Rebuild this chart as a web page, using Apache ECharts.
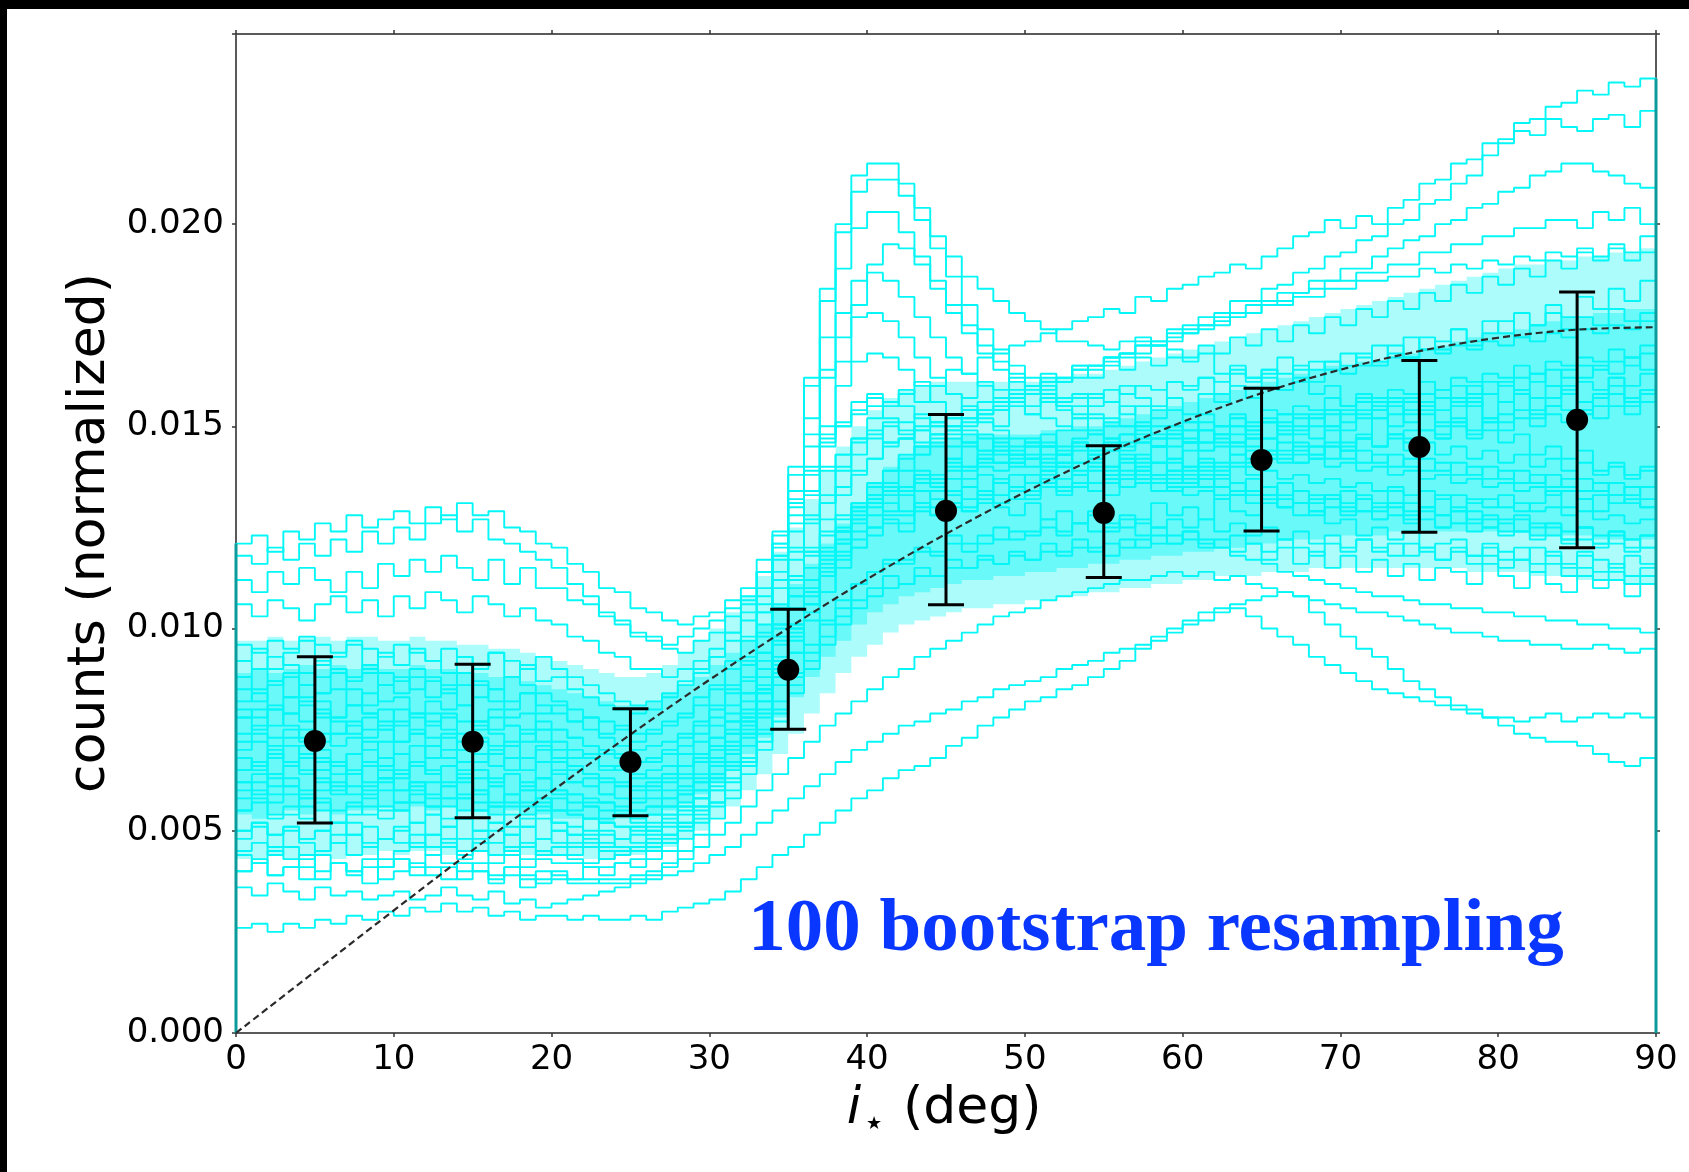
<!DOCTYPE html>
<html><head><meta charset="utf-8">
<script src="https://cdn.jsdelivr.net/npm/echarts@6/dist/echarts.min.js"></script>
<style>html,body{margin:0;padding:0;background:#fff}#c{width:1689px;height:1172px}</style>
</head><body><div id="c"></div>
<script>
// values are in units of 1e-4 (counts, normalized), bins of 1 degree starting at 0
const xTicks = [0,10,20,30,40,50,60,70,80,90];
const yTicks = [0,50,100,150,200];
const binWidth = 1;

const curveU1 = [121,123,119,124,122,126,124,128,125,127,129,126,130,127,131,128,129,125,124,121,120,116,114,110,109,105,104,102,101,103,104,107,110,117,124,134,140,147,150,153,155,152,151,149,148,150,146,148,144,145,146,142,145,141,143,140,142,139,141,137,138,135,137,133,134,131,132,128,129,126,127,123,125,122,124,120,121,122,118,120,117,120,116,119,115,118,114,116,113,115];
const curveU2 = [118,116,120,117,121,118,122,119,124,121,125,122,126,128,124,127,122,121,119,117,115,111,108,104,102,99,98,96,98,100,102,105,108,114,120,128,134,140,143,147,149,146,147,143,146,142,145,141,144,140,143,139,141,138,141,136,139,137,138,134,135,138,133,136,133,135,130,134,131,132,129,133,127,131,128,129,125,130,126,127,124,128,123,126,122,125,121,124,120,123];
const curveU3 = [112,109,114,111,115,112,109,114,110,116,113,117,114,118,115,112,117,111,115,110,110,107,106,103,101,98,97,95,94,97,99,103,107,114,121,131,138,146,151,156,158,156,155,152,150,147,146,144,143,141,145,140,143,139,143,138,141,137,141,136,140,137,138,134,137,133,136,131,133,132,134,129,131,130,127,130,128,126,129,125,127,124,126,125,122,125,121,123,122,120];
const curveU4 = [106,103,107,105,102,106,108,104,107,103,108,105,109,107,104,108,106,103,105,102,101,98,97,94,93,90,90,88,90,92,95,99,104,110,118,126,133,139,143,146,148,151,149,146,148,145,148,144,147,143,146,148,143,147,149,144,148,150,145,149,151,146,150,152,147,151,153,148,152,154,149,153,155,150,154,156,151,155,157,152,156,158,153,157,159,154,158,160,155,159];
const curveP1 = [88,85,87,83,86,84,85,81,84,82,83,79,82,80,81,77,80,78,79,75,75,73,71,70,69,67,67,69,71,74,78,84,93,104,121,140,162,184,200,212,215,215,210,204,197,192,187,184,181,178,176,174,171,171,170,169,171,172,170,167,166,168,163,165,162,164,159,161,158,160,155,157,154,156,151,153,150,152,147,149,146,148,143,145,142,144,139,141,138,140];
const curveP2 = [78,80,76,79,77,78,74,77,75,76,72,75,73,74,70,73,71,72,68,71,68,66,64,63,62,61,62,64,66,69,73,79,88,101,117,138,160,181,198,208,211,211,207,201,194,187,180,174,169,165,162,160,157,157,155,156,153,155,152,154,151,153,150,152,149,151,148,150,147,149,146,148,145,147,144,146,143,145,142,144,141,143,140,142,139,141,138,140,137,139];
const curveP3 = [70,72,68,71,69,70,66,69,67,68,64,67,65,66,62,65,63,64,60,63,60,59,57,57,55,55,56,58,61,64,68,74,82,94,110,130,152,172,189,199,203,203,198,192,186,180,175,170,166,163,160,158,155,155,153,152,150,151,148,150,147,149,146,148,145,147,144,146,143,145,142,144,141,143,140,142,139,141,138,140,137,139,136,138,135,137,134,136,133,135];
const curveP4 = [82,84,80,83,81,82,78,81,79,80,76,79,77,78,74,77,75,76,72,75,72,70,68,66,65,64,63,64,66,68,71,75,80,88,98,112,128,148,166,180,190,195,194,190,184,178,173,168,164,161,158,156,154,153,152,150,150,148,150,147,149,146,148,145,147,144,146,143,145,142,144,141,143,140,142,139,141,138,140,137,139,136,138,135,137,134,136,133,135,132];
const curveP5 = [65,67,63,66,64,65,61,64,62,63,60,62,58,61,59,60,56,59,57,58,55,54,53,52,51,50,51,53,56,60,64,70,78,90,105,124,145,164,178,186,188,186,182,177,172,167,163,160,157,155,153,152,150,149,148,147,148,146,147,145,146,144,145,143,144,142,143,141,142,140,141,139,140,138,139,137,138,136,137,135,136,134,135,133,134,132,133,131,132,130];
const curveP6 = [92,90,93,91,89,92,90,88,91,89,87,90,88,86,89,87,85,88,86,84,82,80,78,77,75,74,75,76,78,81,85,90,97,106,118,132,148,162,172,177,178,176,172,167,162,158,154,151,149,147,145,146,144,145,143,144,142,143,141,142,140,141,139,140,138,139,137,138,136,137,135,136,134,135,133,134,132,133,131,132,130,131,129,130,128,129,127,128,126,127];
const curveP7 = [58,60,57,59,56,58,55,57,54,56,55,57,54,56,53,55,52,54,51,53,50,49,48,47,46,45,46,48,51,55,60,66,74,86,100,117,134,150,160,166,168,167,164,160,156,152,149,147,145,143,142,141,140,141,139,140,138,139,137,138,136,137,135,136,134,135,133,134,132,133,131,132,130,131,129,130,128,129,127,128,126,127,125,126,124,125,123,124,122,123];
const curveH1 = [55,57,54,56,53,55,52,54,56,53,55,52,54,51,53,50,52,49,51,48,50,47,49,46,48,47,49,51,54,58,63,69,76,85,96,108,120,131,140,147,152,156,158,161,160,164,163,167,168,170,171,173,174,176,177,179,178,182,181,184,185,187,188,190,189,192,194,197,198,201,199,202,200,204,206,210,211,215,216,220,221,225,226,229,230,233,232,235,234,236];
const curveH2 = [62,64,61,63,60,62,59,61,58,60,57,59,56,58,55,57,54,56,53,55,52,51,50,49,48,49,50,52,55,58,62,67,73,80,88,97,106,114,121,127,132,136,139,143,145,148,150,153,154,157,158,161,161,164,165,167,168,171,171,174,175,177,178,181,181,184,185,188,189,192,193,196,197,200,201,205,206,210,212,217,220,223,222,226,224,223,226,227,224,228];
const curveH3 = [68,66,69,67,65,68,66,64,67,65,63,66,64,62,65,63,61,64,62,60,59,57,56,55,54,53,54,56,59,62,66,71,77,84,92,101,110,118,125,131,136,139,143,145,148,149,152,153,156,156,159,159,162,162,165,165,168,168,171,171,174,174,177,177,180,180,183,183,186,186,189,189,192,194,196,197,200,201,204,205,208,209,212,213,215,215,213,212,210,209];
const curveH4 = [74,76,73,75,72,74,71,73,70,72,69,71,68,70,67,69,66,68,65,67,64,62,61,59,58,57,58,60,63,67,71,77,84,92,101,110,119,127,133,138,142,146,147,150,151,153,154,156,157,159,160,162,162,165,165,167,168,170,170,173,173,175,176,178,178,181,181,183,184,186,186,188,188,190,190,193,193,195,195,197,197,199,199,201,201,199,203,201,204,200];
const curveH5 = [50,52,49,51,48,50,47,49,46,48,47,49,46,48,45,47,44,46,43,45,44,43,42,43,44,45,47,49,52,56,61,67,74,82,91,100,109,117,124,130,135,139,142,145,147,150,151,154,155,158,158,161,161,164,164,167,167,170,170,172,173,175,175,178,178,180,180,182,182,184,184,186,186,187,187,189,188,190,189,191,190,192,191,193,192,194,192,194,191,193];
const curveB1 = [72,74,71,73,75,72,74,76,73,75,72,74,71,73,70,72,69,71,68,70,67,65,64,62,61,60,61,62,64,67,70,74,79,85,92,100,108,115,121,126,130,133,135,138,137,140,139,142,141,143,142,145,143,146,144,147,146,149,147,150,149,151,150,153,151,154,153,155,154,157,155,158,157,159,158,161,159,162,161,163,162,165,163,166,165,167,166,169,167,170];
const curveB2 = [80,78,81,79,82,80,78,81,79,77,80,78,76,79,77,75,78,76,74,77,75,73,71,69,68,67,68,70,73,76,80,85,91,98,105,112,118,123,127,130,132,135,134,137,136,139,137,140,139,141,140,143,141,144,142,145,144,146,145,148,146,149,148,150,149,152,150,153,152,154,153,156,154,157,156,158,157,160,158,161,160,162,161,164,162,165,164,166,165,168];
const curveB3 = [60,62,59,61,58,60,62,59,61,63,60,62,59,61,58,60,57,59,56,58,55,54,53,52,51,51,52,54,57,60,64,69,75,82,90,98,106,113,118,122,125,128,128,131,130,133,132,134,133,135,134,137,135,138,136,138,137,140,138,141,139,142,140,143,141,144,142,145,143,146,144,147,145,148,146,149,147,150,148,151,149,152,150,153,151,154,152,155,153,156];
const curveB4 = [50,52,49,51,48,50,52,49,51,48,50,52,49,51,48,50,47,49,46,48,47,46,46,45,45,46,47,49,52,56,60,65,71,78,86,94,102,109,115,120,123,126,126,129,128,131,130,132,131,134,132,135,133,136,134,137,135,138,136,139,137,140,138,141,140,142,141,144,142,145,144,147,145,148,147,149,148,151,149,152,151,154,152,155,154,156,155,158,156,159];
const curveB5 = [88,90,87,89,86,88,90,87,89,86,88,85,87,84,86,83,85,82,84,81,79,77,75,73,71,70,71,72,74,77,81,86,92,99,106,113,119,124,128,131,133,135,134,136,135,137,135,138,136,138,136,139,137,138,136,137,135,136,134,135,133,134,132,133,131,132,130,131,129,130,128,129,127,128,126,127,125,126,124,125,123,124,122,123,121,122,120,121,119,120];
const curveB6 = [65,67,64,66,68,65,67,64,66,63,65,67,64,66,63,65,62,64,61,63,60,59,58,57,56,55,56,58,60,63,67,72,78,85,93,101,109,116,122,127,131,134,135,138,138,141,140,142,141,144,142,145,143,146,144,146,145,147,145,148,146,149,147,150,148,151,149,152,150,153,151,154,152,155,153,156,154,157,155,158,156,159,157,160,158,161,159,162,160,163];
const curveB7 = [45,47,44,46,43,45,47,44,46,43,45,47,44,46,43,45,42,44,41,43,42,42,41,41,42,43,45,47,50,53,57,62,68,75,82,89,96,102,107,111,114,116,117,119,119,121,121,123,122,124,123,125,124,126,124,126,125,127,125,127,125,127,124,126,123,125,122,124,121,123,120,122,119,121,118,120,117,119,116,118,115,117,114,116,113,115,112,114,111,113];
const curveB8 = [96,94,97,95,98,96,94,97,95,93,96,94,92,95,93,91,94,92,90,93,90,88,86,84,82,81,82,84,87,90,93,97,102,108,114,120,126,131,135,139,142,145,147,149,150,152,152,154,154,156,155,157,156,158,157,159,158,160,159,161,160,162,161,163,162,164,163,165,164,166,165,167,166,168,167,169,168,170,169,171,170,172,171,173,172,174,173,175,174,176];
const curveB9 = [40,42,39,41,38,40,42,39,41,38,40,42,39,41,38,40,37,39,36,38,38,37,37,38,38,39,40,42,45,49,53,58,64,70,77,84,90,96,101,105,108,110,111,113,113,115,115,117,116,118,117,119,118,120,119,121,120,122,121,123,122,121,120,118,117,116,114,113,112,111,110,109,108,108,107,106,106,105,105,104,104,103,103,102,102,101,101,100,100,99];
const curveC1 = [55,58,53,54,59,57,52,56,60,55,57,61,56,53,58,55,56,51,54,57,52,49,53,50,48,51,50,54,56,58,63,66,74,79,89,94,104,109,117,120,125,127,124,131,128,134,129,131,136,132,133,138,134,135,140,133,137,142,138,139,144,139,141,146,142,143,148,141,145,150,145,147,152,148,149,154,147,151,156,151,153,158,154,155,160,153,157,162,157,158];
const curveC2 = [85,82,86,88,83,84,89,85,81,86,84,88,83,85,81,86,82,80,84,79,81,77,78,74,76,72,74,77,79,83,86,92,98,104,112,119,127,133,139,143,147,150,148,153,151,149,155,152,150,156,153,157,155,152,158,156,160,157,155,161,159,162,158,164,161,163,167,162,166,164,168,165,170,167,172,169,171,174,170,173,176,172,175,178,174,177,175,179,176,178];
const curveC3 = [48,51,46,50,47,45,49,52,47,48,51,46,49,47,44,48,50,45,47,44,46,44,47,43,45,46,48,47,51,54,57,63,67,74,80,88,94,101,105,111,114,117,116,120,118,123,119,121,125,122,124,127,123,126,129,125,128,126,131,128,130,127,132,129,128,133,130,131,128,133,130,132,129,134,131,130,133,129,132,130,133,129,131,134,130,132,129,133,131,130];
const curveC4 = [68,65,70,66,71,67,64,69,72,66,69,66,71,68,64,67,70,65,68,63,65,62,63,59,61,58,60,63,66,68,73,77,84,90,97,105,112,119,124,129,133,136,134,139,137,142,140,143,146,142,147,145,149,152,148,151,155,150,154,157,153,158,156,160,157,162,159,164,161,166,163,168,165,170,167,172,169,174,171,176,173,178,175,180,177,182,179,184,181,186];
const curveC5 = [78,75,80,76,73,79,77,74,78,75,77,74,79,75,72,76,74,71,75,72,70,68,69,65,66,63,65,66,69,72,76,81,87,94,101,108,115,120,124,128,131,129,133,130,134,131,129,133,130,128,131,127,129,126,128,124,127,123,125,121,124,120,122,119,121,117,120,116,119,115,118,114,117,113,116,112,115,114,111,116,113,110,114,111,109,113,110,112,108,111];
const curveC6 = [92,95,90,94,97,91,93,96,90,94,91,95,92,89,93,90,94,88,91,87,88,85,83,81,80,79,80,83,86,89,93,99,106,114,123,131,139,145,150,154,157,155,159,156,160,158,157,161,159,162,160,163,161,165,162,166,164,167,165,169,167,170,168,172,170,174,171,175,173,177,175,179,177,181,179,183,181,185,183,187,185,189,187,191,189,193,191,195,193,197];
const curveC7 = [62,59,64,61,58,63,60,65,59,62,64,60,62,58,63,59,61,57,60,56,58,55,56,53,54,52,54,56,59,62,66,71,77,84,91,99,106,113,119,124,128,131,129,134,132,130,135,133,137,134,138,136,140,138,142,139,143,141,145,142,146,144,148,146,150,147,151,149,153,150,154,152,156,153,157,155,159,156,160,158,161,159,163,160,164,162,165,163,167,164];
const curveC8 = [40,43,39,41,44,38,42,40,37,41,43,39,41,38,42,40,38,41,39,37,40,38,41,39,42,41,43,45,48,52,56,60,66,72,79,86,92,98,103,107,110,113,111,115,113,117,115,118,116,119,117,121,119,122,120,118,122,120,123,121,124,122,120,123,121,119,122,120,118,121,119,122,120,118,121,119,117,120,118,121,119,117,120,118,116,119,117,115,118,116];
const curveL1 = [26,27,25,27,26,28,27,29,28,30,29,31,30,32,30,31,29,30,28,29,29,28,29,28,28,29,28,30,31,32,33,35,38,41,44,46,49,52,55,58,60,63,65,66,68,71,73,76,78,80,82,83,85,86,88,90,92,95,97,100,102,104,105,105,103,100,98,96,93,91,89,87,85,84,83,82,81,80,79,78,78,77,78,79,77,78,79,78,79,78];
const curveL2 = [36,34,37,35,33,36,34,35,33,34,35,33,34,36,34,33,35,32,33,31,32,33,34,35,36,37,38,39,40,42,44,46,49,52,55,58,61,64,67,70,72,74,76,77,79,80,82,83,85,86,87,88,90,91,92,94,95,96,98,99,101,102,104,106,107,108,109,108,104,101,98,95,93,90,87,85,83,81,80,78,76,74,73,72,72,71,69,67,66,68];
const curveL3 = [44,42,45,43,41,44,42,40,43,41,43,41,44,42,40,42,39,41,38,40,39,38,38,37,37,38,39,41,43,46,49,52,56,60,64,68,72,76,79,82,85,88,90,93,95,97,99,101,103,104,105,107,108,109,110,111,112,112,113,114,113,114,112,113,111,110,109,108,107,106,105,104,104,103,102,101,100,99,99,98,97,97,96,96,95,95,96,95,94,95];

// density of the 100 curves: outer envelope and dense core (lower / upper edges)
const bandOutLo = [43,43,44,43,44,44,43,44,44,45,44,45,45,44,45,45,44,45,44,44,44,44,43,43,44,44,45,46,48,50,53,56,60,64,69,74,79,84,89,93,96,99,101,102,103,104,105,105,106,106,107,107,108,108,109,109,110,110,111,111,112,112,113,113,113,114,114,114,115,115,115,115,115,115,115,115,115,115,114,114,114,114,113,113,113,112,112,112,111,111];
const bandOutHi = [97,97,98,97,98,98,97,98,98,97,97,98,97,97,96,96,95,95,94,93,92,91,90,89,88,88,89,91,94,97,100,104,108,113,119,125,132,139,145,150,154,157,159,160,161,161,161,161,161,161,161,162,162,163,163,164,165,166,167,168,169,170,171,172,173,174,175,176,177,178,179,180,181,182,183,184,185,186,187,188,189,190,190,191,191,192,192,193,193,194];
const bandLo = [54,53,54,55,54,55,54,55,55,56,55,56,55,56,55,55,54,55,54,54,53,53,53,52,53,53,54,55,57,59,62,65,69,73,78,83,88,93,97,101,104,106,108,109,110,111,112,112,113,113,114,114,115,115,116,116,117,117,118,118,119,119,120,120,121,121,122,122,122,123,123,123,123,124,124,124,124,124,124,124,124,124,123,123,123,123,122,122,122,122];
const bandHi = [89,90,89,90,91,90,91,90,91,90,90,91,90,90,89,89,88,88,87,86,85,84,83,82,81,81,82,84,86,88,91,94,97,101,106,111,116,121,126,131,136,140,143,145,146,147,148,148,148,148,148,149,149,150,150,151,152,153,154,155,156,157,158,159,160,161,162,163,164,165,165,166,166,167,168,169,170,171,172,173,173,174,175,176,177,177,178,178,179,179];

// binned mean with error bars
const ebX = [5,15,25,35,45,55,65,75,85];
const ebMean = [72.2,72.0,67.0,89.8,129.1,128.6,141.7,144.9,151.6];
const ebLo = [51.9,53.2,53.7,75.1,105.9,112.6,124.1,123.8,120.0];
const ebHi = [93.0,91.2,80.2,104.8,152.9,145.2,159.4,166.3,183.2];

// isotropic expectation (dashed)
const thX = [0,5,10,15,20,25,30,35,40,45,50,55,60,65,70,75,80,85,90];
const thY = [0,15.2,30.3,45.2,59.7,73.8,87.3,100.1,112.2,123.4,133.7,143.0,151.1,158.2,164.0,168.6,171.9,173.9,174.5];

const curves = [curveU1,curveU2,curveU3,curveU4,curveP1,curveP2,curveP3,curveP4,curveP5,curveP6,curveP7,
  curveH1,curveH2,curveH3,curveH4,curveH5,curveB1,curveB2,curveB3,curveB4,curveB5,curveB6,curveB7,curveB8,curveB9,
  curveC1,curveC2,curveC3,curveC4,curveC5,curveC6,curveC7,curveC8,curveL1,curveL2,curveL3];

const CYAN = '#04f6f6';
const XMAX = 90, YMAX = 247;

function stepData(vals){
  const d = [[0,0]];
  vals.forEach((v,i)=>d.push([i*binWidth, v]));
  d.push([vals.length*binWidth, vals[vals.length-1]]);
  d.push([vals.length*binWidth, 0]);
  return d;
}
function bandSeries(lo, hi, opacity){
  return {type:'custom', z:1, silent:true, data:[[0,0]],
    renderItem:function(params, api){
      const pts = [];
      for (let i=0;i<hi.length;i++){
        pts.push(api.coord([i*binWidth, hi[i]]));
        pts.push(api.coord([(i+1)*binWidth, hi[i]]));
      }
      for (let i=lo.length-1;i>=0;i--){
        pts.push(api.coord([(i+1)*binWidth, lo[i]]));
        pts.push(api.coord([i*binWidth, lo[i]]));
      }
      return {type:'polygon', shape:{points:pts}, style:{fill:CYAN, opacity:opacity}};
    }};
}

const series = [];
series.push(bandSeries(bandOutLo, bandOutHi, 0.33));
series.push(bandSeries(bandLo, bandHi, 0.4));
curves.forEach(c=>{
  series.push({type:'line', step:'end', data:stepData(c), showSymbol:false, silent:true,
    lineStyle:{color:CYAN, width:1.9}, z:3});
});
// edges of the step histograms along the frame
const leftTop = Math.max(...curves.map(c=>c[0]));
const rightTop = Math.max(...curves.map(c=>c[c.length-1]));
series.push({type:'line', data:[[0,0],[0,leftTop]], showSymbol:false, silent:true, lineStyle:{color:'#0a9c9c', width:3}, z:5});
series.push({type:'line', data:[[XMAX,0],[XMAX,rightTop]], showSymbol:false, silent:true, lineStyle:{color:'#0a9c9c', width:3}, z:5});
// dashed expectation
series.push({type:'line', smooth:0.35, data:thX.map((x,i)=>[x,thY[i]]), showSymbol:false, silent:true,
  lineStyle:{color:'#2a2a2a', width:2.2, type:[7,4]}, z:8});
// error bars
series.push({type:'custom', z:9, silent:true,
  data: ebX.map((x,i)=>[x, ebLo[i], ebHi[i]]),
  encode:{x:0, y:[1,2]},
  renderItem:function(params, api){
    const x = api.value(0);
    const p1 = api.coord([x, api.value(1)]);
    const p2 = api.coord([x, api.value(2)]);
    const hw = 18;
    const st = {stroke:'#000', lineWidth:3};
    return {type:'group', children:[
      {type:'line', shape:{x1:p1[0],y1:p1[1],x2:p2[0],y2:p2[1]}, style:st},
      {type:'line', shape:{x1:p1[0]-hw,y1:p1[1],x2:p1[0]+hw,y2:p1[1]}, style:st},
      {type:'line', shape:{x1:p2[0]-hw,y1:p2[1],x2:p2[0]+hw,y2:p2[1]}, style:st}
    ]};
  }});
series.push({type:'scatter', data:ebX.map((x,i)=>[x, ebMean[i]]), symbolSize:22, itemStyle:{color:'#000', opacity:1}, z:10, silent:true});

const axisLineStyle = {color:'#5a5a5a', width:2};
const tickStyle = {color:'#333', width:1.5};
const labelFont = {fontFamily:'DejaVu Sans', fontSize:34, color:'#000'};

const option = {
  animation:false,
  backgroundColor:'#fff',
  grid:{left:236, right:33, top:34, bottom:139, containLabel:false},
  xAxis:[
    {type:'value', min:0, max:XMAX, interval:10, position:'bottom',
     axisLine:{show:true, onZero:false, lineStyle:axisLineStyle},
     axisTick:{show:true, length:4, lineStyle:tickStyle},
     axisLabel:Object.assign({margin:10, formatter:v=>xTicks.includes(v)?String(v):''}, labelFont),
     splitLine:{show:false}},
    {type:'value', min:0, max:XMAX, interval:10, position:'top',
     axisLine:{show:true, onZero:false, lineStyle:axisLineStyle},
     axisTick:{show:true, length:4, lineStyle:tickStyle},
     axisLabel:{show:false}, splitLine:{show:false}}
  ],
  yAxis:[
    {type:'value', min:0, max:YMAX, interval:50, position:'left',
     axisLine:{show:true, onZero:false, lineStyle:axisLineStyle},
     axisTick:{show:true, length:4, lineStyle:tickStyle},
     axisLabel:Object.assign({margin:12, formatter:v=>yTicks.includes(v)?(v/10000).toFixed(3):''}, labelFont),
     splitLine:{show:false}},
    {type:'value', min:0, max:YMAX, interval:50, position:'right',
     axisLine:{show:true, onZero:false, lineStyle:axisLineStyle},
     axisTick:{show:true, length:4, lineStyle:tickStyle},
     axisLabel:{show:false}, splitLine:{show:false}}
  ],
  series: series,
  graphic:[
    {type:'rect', shape:{x:0,y:0,width:1689,height:9}, style:{fill:'#000'}, z:100},
    {type:'rect', shape:{x:0,y:0,width:7,height:1172}, style:{fill:'#000'}, z:100},
    {type:'text', x:1156, y:931, z:50, style:{text:'100 bootstrap resampling', fill:'#0a37ff',
      font:'bold 75px "Liberation Serif", "Times New Roman", serif', textAlign:'center', textVerticalAlign:'middle'}},
    {type:'text', x:90, y:533, rotation:Math.PI/2, z:50, style:{text:'counts (normalized)', fill:'#000',
      font:'52px "DejaVu Sans"', textAlign:'center', textVerticalAlign:'middle'}},
    {type:'text', x:854, y:1109, z:50, style:{text:'i', fill:'#000',
      font:'italic 52px "DejaVu Sans"', textAlign:'center', textVerticalAlign:'middle'}},
    {type:'text', x:874, y:1124, z:50, style:{text:'★', fill:'#000',
      font:'18px "DejaVu Sans"', textAlign:'center', textVerticalAlign:'middle'}},
    {type:'text', x:903, y:1109, z:50, style:{text:'(deg)', fill:'#000',
      font:'52px "DejaVu Sans"', textAlign:'left', textVerticalAlign:'middle'}}
  ]
};
const chart = echarts.init(document.getElementById('c'), null, {renderer:'canvas'});
chart.setOption(option);
</script></body></html>
